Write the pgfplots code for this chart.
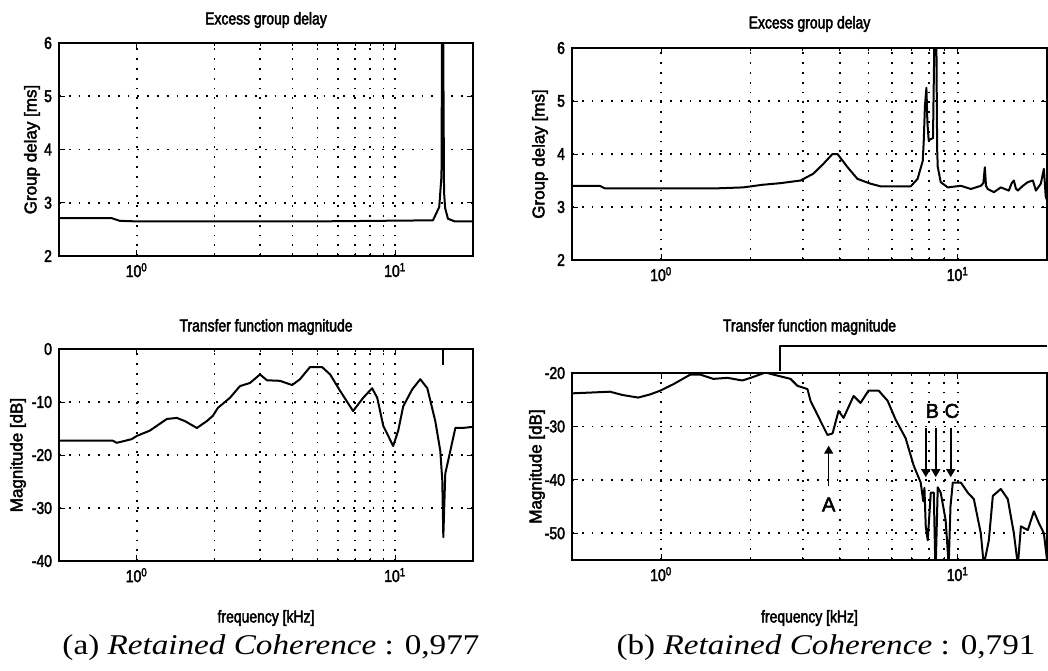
\documentclass[border=0pt]{standalone}
\usepackage{fontspec}
\setmainfont[FakeStretch=1.16]{Liberation Serif}
\newfontfamily\plotfont[FakeStretch=0.82,FakeBold=2.5]{Liberation Sans}
\newfontfamily\labelfont[FakeBold=2.5]{Liberation Sans}
\usepackage{pgfplots}
\pgfplotsset{compat=1.18}
\usetikzlibrary{arrows.meta}

\pgfplotsset{every axis/.append style={
  scale only axis, xmin=0.5, xmax=20,
  xtick={1,10}, xticklabels={10\textsuperscript{0},10\textsuperscript{1}},
  grid=both,
  major grid style={black, line width=0.8pt, dash pattern=on 0.9pt off 4pt},
  minor grid style={black, line width=0.8pt, dash pattern=on 0.9pt off 4pt},
  axis line style={line width=0.9pt},
  tick align=inside, major tick length=3pt, minor tick length=1.5pt,
  tick style={black, line width=0.5pt},
  ticklabel style={font=\plotfont\fontsize{8.5}{9}\selectfont},
  xlabel style={font=\plotfont\fontsize{8.5}{9}\selectfont, at={(axis description cs:0.5,0)}, anchor=center},
  ylabel style={font=\labelfont\fontsize{8.5}{9}\selectfont, at={(axis description cs:0,0.5)}, anchor=center},
  title style={font=\plotfont\fontsize{8.5}{9}\selectfont, at={(axis description cs:0.5,1)}, anchor=center},
  /pgf/number format/assume math mode=true,
  cycle list={{black}},
},
every axis plot post/.append style={black, line width=1pt, no marks, line join=round}}

\begin{document}
\begin{tikzpicture}
\useasboundingbox (0,0) rectangle (524pt,-335pt);

% (a) top: excess group delay
\begin{semilogxaxis}[at={(29.5pt,-21.5pt)}, anchor=north west, width=207pt, height=106.5pt,
  ymin=2, ymax=6, ytick={2,3,4,5,6},
  title={Excess group delay}, title style={yshift=5.5pt},
  ylabel={Group delay [ms]}, ylabel style={yshift=13.5pt}]
\addplot coordinates {(0.5,2.71)(0.80,2.71)(0.86,2.66)(1.0,2.65)(5,2.65)(14.0,2.67)(14.8,2.92)(15.1,3.5)(15.2,7)(15.3,7)(15.45,3.2)(15.6,2.9)(16.0,2.7)(17,2.65)(20,2.65)};
\end{semilogxaxis}

% (b) top
\begin{semilogxaxis}[at={(286pt,-24pt)}, anchor=north west, width=237.5pt, height=106pt,
  ymin=2, ymax=6, ytick={2,3,4,5,6},
  title={Excess group delay}, title style={yshift=6pt},
  ylabel={Group delay [ms]}, ylabel style={yshift=16pt}]
\addplot coordinates {(0.5,3.40)(0.62,3.40)(0.647,3.35)(1.0,3.35)(1.5,3.35)(1.89,3.37)(2.2,3.42)(2.525,3.45)(2.95,3.50)(3.26,3.63)(3.53,3.82)(3.78,4.0)(3.93,4.0)(4.25,3.75)(4.59,3.53)(5.08,3.44)(5.49,3.39)(6.94,3.39)(7.32,3.53)(7.62,3.87)(7.68,4.25)(7.75,4.9)(7.84,5.25)(7.9,4.6)(7.98,4.26)(8.25,4.3)(8.38,7)(8.45,7)(8.52,4.1)(8.56,3.76)(8.76,3.47)(9.25,3.37)(10.24,3.40)(11.07,3.34)(11.96,3.40)(12.2,3.45)(12.34,3.75)(12.45,3.4)(12.62,3.34)(13.24,3.28)(13.97,3.37)(14.87,3.31)(15.2,3.45)(15.46,3.50)(15.7,3.35)(15.95,3.31)(16.58,3.40)(17.23,3.47)(17.92,3.50)(18.35,3.31)(19.06,3.44)(19.52,3.72)(19.8,3.2)(20,3.13)};
\end{semilogxaxis}

% (a) bottom: transfer function magnitude
\begin{semilogxaxis}[at={(29.5pt,-174.5pt)}, anchor=north west, width=207pt, height=106pt,
  ymin=-40, ymax=0, ytick={-40,-30,-20,-10,0}, yticklabels={-40,-30,-20,-10,0},
  title={Transfer function magnitude}, title style={yshift=5pt},
  ylabel={Magnitude [dB]}, ylabel style={yshift=20.5pt},
  xlabel={frequency [kHz]}, xlabel style={yshift=-28.5pt}]
\addplot coordinates {(0.5,-17.3)(0.807,-17.3)(0.837,-17.7)(0.956,-17.0)(1.0,-16.4)(1.123,-15.4)(1.307,-13.2)(1.429,-13.0)(1.535,-13.6)(1.708,-14.9)(1.867,-13.6)(1.97,-12.6)(2.06,-11.1)(2.294,-9.2)(2.507,-7.0)(2.742,-6.4)(2.998,-4.8)(3.19,-5.9)(3.58,-6.0)(3.99,-6.8)(4.28,-5.7)(4.68,-3.4)(5.21,-3.4)(5.60,-4.8)(6.12,-7.9)(6.87,-11.7)(7.52,-9.2)(8.14,-7.4)(8.52,-9.2)(8.99,-14.5)(9.82,-18.3)(10.27,-15.4)(10.74,-10.8)(11.64,-7.6)(12.50,-5.7)(13.31,-7.4)(14.29,-13.6)(14.94,-19.2)(15.21,-24.8)(15.35,-35.5)(15.62,-23.5)(16.34,-19.2)(17.09,-14.9)(18.2,-14.9)(19.87,-14.7)(20,-14.7)};
\addplot coordinates {(15.35,0)(15.35,-3)};
\end{semilogxaxis}

% (b) bottom
\begin{semilogxaxis}[at={(286pt,-186.5pt)}, anchor=north west, width=237.5pt, height=93.5pt,
  ymin=-55, ymax=-20, ytick={-50,-40,-30,-20}, yticklabels={-50,-40,-30,-20},
  title={Transfer function magnitude}, title style={yshift=17pt},
  ylabel={Magnitude [dB]}, ylabel style={yshift=17.5pt},
  xlabel={frequency [kHz]}, xlabel style={yshift=-29pt}, clip mode=individual]
\addplot coordinates {(0.504,-23.8)(0.672,-23.5)(0.738,-24.1)(0.836,-24.6)(0.918,-24.0)(0.992,-23.3)(1.098,-22.1)(1.253,-20.3)(1.354,-20.3)(1.499,-21.1)(1.671,-20.9)(1.877,-21.4)(2.028,-20.8)(2.245,-19.9)(2.389,-20.3)(2.728,-21.1)(2.88,-22.4)(3.112,-23.0)(3.187,-25.2)(3.445,-29.0)(3.636,-31.6)(3.783,-31.3)(3.963,-27.1)(4.12,-28.4)(4.453,-24.3)(4.70,-25.6)(5.00,-23.3)(5.41,-23.3)(5.80,-25.2)(6.17,-28.7)(6.67,-32.2)(7.10,-37.3)(7.50,-40.5)(7.65,-44)(7.72,-41.5)(7.80,-48.7)(7.92,-51.3)(8.11,-42.4)(8.30,-42.4)(8.40,-56)(8.43,-56)(8.56,-41.4)(8.76,-42.4)(9.10,-47.5)(9.32,-56)(9.45,-45)(9.62,-40.5)(10.24,-40.5)(10.81,-42.4)(11.33,-43.6)(11.96,-50)(12.24,-56)(12.73,-51.3)(13.13,-43.0)(13.97,-41.7)(14.75,-43.6)(15.46,-50)(15.95,-56)(16.33,-48.7)(17.23,-49.4)(18.06,-45.9)(18.78,-48.1)(19.52,-50)(20.1,-56)};
\addplot[line width=0.9pt, clip=false] coordinates {(2.52,-19.6)(2.52,-14.9)(20,-14.9)};
\draw[line width=0.8pt, -{Triangle[length=4pt,width=4.5pt]}] (axis cs:3.67,-41.2) -- (axis cs:3.67,-33.6);
\node[font=\labelfont\fontsize{10}{11}\selectfont] at (axis cs:3.67,-44.6) {A};
\draw[line width=0.8pt, -{Triangle[length=4pt,width=4.5pt]}] (axis cs:7.80,-30.3) -- (axis cs:7.80,-39.5);
\draw[line width=0.8pt, -{Triangle[length=4pt,width=4.5pt]}] (axis cs:8.43,-30.3) -- (axis cs:8.43,-39.5);
\draw[line width=0.8pt, -{Triangle[length=4pt,width=4.5pt]}] (axis cs:9.47,-30.3) -- (axis cs:9.47,-39.5);
\node[font=\labelfont\fontsize{10}{11}\selectfont] at (axis cs:8.21,-27.1) {B};
\node[font=\labelfont\fontsize{10}{11}\selectfont] at (axis cs:9.55,-27.1) {C};
\end{semilogxaxis}

\node[font=\fontsize{14.3}{16}\selectfont] at (135.5pt,-324pt) {(a) \textit{Retained Coherence} : 0,977};
\node[font=\fontsize{14.3}{16}\selectfont] at (413pt,-324pt) {(b) \textit{Retained Coherence} : 0,791};
\end{tikzpicture}
\end{document}
